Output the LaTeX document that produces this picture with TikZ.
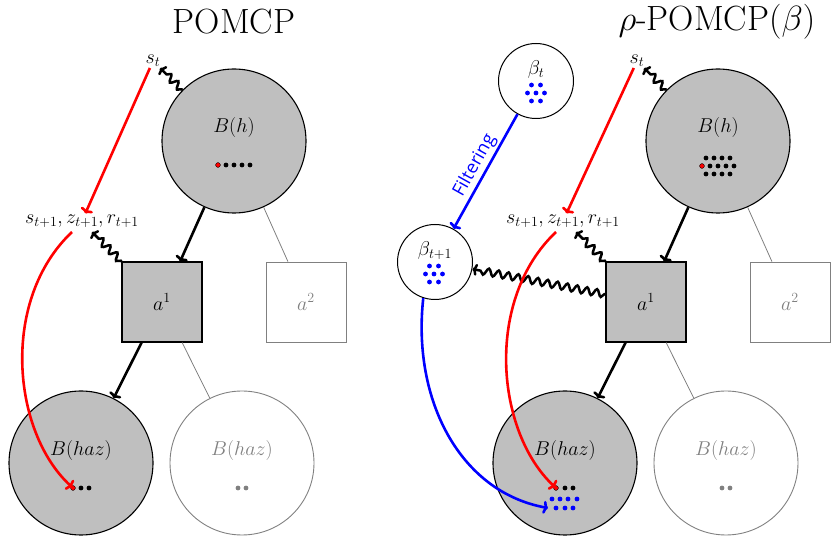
\documentclass[tikz,border=0pt]{standalone}
\usepackage{fontspec}
\newfontfamily\filtfont{Open Sans}
\DeclareFontShape{OML}{cmm}{m}{it}{<-6>cmmi5<6-7>cmmi6<7-8>cmmi7<8-9>cmmi8<9-10>cmmi9<10-12>cmmi10<12->cmmi12}{}
\DeclareFontShape{OMS}{cmsy}{m}{n}{<-6>cmsy5<6-7>cmsy6<7-8>cmsy7<8-9>cmsy8<9-10>cmsy9<10->cmsy10}{}
\DeclareFontShape{OT1}{cmr}{m}{n}{<-6>cmr5<6-7>cmr6<7-8>cmr7<8-9>cmr8<9-10>cmr9<10-12>cmr10<12-17>cmr12<17->cmr17}{}
\usetikzlibrary{decorations.pathmorphing,arrows.meta}
\begin{document}
\begin{tikzpicture}[x=1pt,y=1pt,
  lbl/.style={font=\fontsize{20}{23}\selectfont, inner sep=1pt},
  ttl/.style={font=\fontsize{35}{40}\selectfont},
  bel/.style={circle, draw=black, fill=lightgray, line width=1.1pt, minimum size=144pt, inner sep=0pt},
  belg/.style={circle, draw=gray, line width=0.9pt, minimum size=144pt, inner sep=0pt},
  act/.style={rectangle, draw=black, fill=lightgray, line width=1.1pt, minimum size=80pt, inner sep=0pt},
  actg/.style={rectangle, draw=gray, line width=0.9pt, minimum size=80pt, inner sep=0pt},
  bcirc/.style={circle, draw=black, fill=white, line width=1pt, minimum size=75pt, inner sep=0pt},
  tarr/.style={line width=2.6pt, -{To[length=5pt,width=13pt]}},
  garr/.style={draw=gray, line width=0.8pt},
  wavy/.style={line width=2.5pt, -{To[length=5pt,width=12pt]}, decorate,
     decoration={snake, amplitude=3.5pt, segment length=10pt, pre length=1pt, post length=5pt}},
  rarr/.style={red, line width=2.6pt, -{To[length=5pt,width=13pt]}},
  uarr/.style={blue, line width=2.6pt, -{To[length=5pt,width=13pt]}}
]
\useasboundingbox (0,0) rectangle (831,-537);
\def\dr{2.4}

% ---------- titles
\node[ttl] (t1) at (234,-22) {POMCP};
\node[ttl] (t2) at (717,-22) {$\rho$-POMCP$(\beta)$};

% ================= LEFT PANEL
\node[bel] (Bh) at (234,-141) {};
\node[lbl] (BhT) at (234,-128) {$B(h)$};
\filldraw[fill=red, draw=black, line width=0.4pt] (218,-165) circle (\dr);
\foreach \x in {226,234,242,250} \fill (\x,-165) circle (\dr);

\node[act] (a1) at (162,-302) {};
\node[lbl] (a1T) at (162,-302) {$a^1$};
\node[actg] (a2) at (306,-302) {};
\node[lbl, text=gray] (a2T) at (306,-302) {$a^2$};

\node[bel] (Bz) at (81,-463) {};
\node[lbl] (BzT) at (81,-451) {$B(haz)$};
\coordinate (rdL) at (73,-488);
\filldraw[fill=red, draw=black, line width=0.4pt] (rdL) circle (\dr);
\foreach \x in {81,89} \fill (\x,-488) circle (\dr);

\node[belg] (Bg) at (242,-463) {};
\node[lbl, text=gray] (BgT) at (242,-451) {$B(haz)$};
\foreach \x in {238,246} \fill[gray] (\x,-488) circle (\dr);

\node[lbl] (st) at (153,-61) {$s_t$};
\node[lbl] (sl) at (82,-221) {$s_{t+1}, z_{t+1}, r_{t+1}$};
\coordinate (slw) at (92,-232);
\coordinate (slr) at (72,-232);

\draw[tarr] (Bh) -- (a1);
\draw[garr] (Bh) -- (a2);
\draw[tarr] (a1) -- (Bz);
\draw[garr] (a1) -- (Bg);
\draw[wavy] (Bh) -- (st);
\draw[wavy] (a1.north west) -- (slw);
\draw[rarr] (st) -- (sl);
\draw[rarr, shorten >=1pt] (slr) .. controls (0,-300) and (12,-432) .. (rdL);

% ================= RIGHT PANEL
\node[bel] (RBh) at (718,-141) {};
\node[lbl] (RBhT) at (718,-128) {$B(h)$};
\foreach \x in {706,714,722,730} \fill (\x,-158) circle (\dr);
\filldraw[fill=red, draw=black, line width=0.4pt] (702,-166) circle (\dr);
\foreach \x in {710,718,726,734} \fill (\x,-166) circle (\dr);
\foreach \x in {706,714,722,730} \fill (\x,-174) circle (\dr);

\node[act] (Ra1) at (646,-302) {};
\node[lbl] (Ra1T) at (646,-302) {$a^1$};
\node[actg] (Ra2) at (790,-302) {};
\node[lbl, text=gray] (Ra2T) at (790,-302) {$a^2$};

\node[bel] (RBz) at (565,-463) {};
\node[lbl] (RBzT) at (565,-451) {$B(haz)$};
\coordinate (rdR) at (556,-488);
\filldraw[fill=red, draw=black, line width=0.4pt] (rdR) circle (\dr);
\foreach \x in {565,573} \fill (\x,-488) circle (\dr);
\foreach \x in {552,560,568,577} \fill[blue] (\x,-499) circle (\dr);
\coordinate (bdR) at (548,-508);
\foreach \x in {556,565,573} \fill[blue] (\x,-508) circle (\dr);

\node[belg] (RBg) at (726,-463) {};
\node[lbl, text=gray] (RBgT) at (726,-451) {$B(haz)$};
\foreach \x in {722,730} \fill[gray] (\x,-488) circle (\dr);

\node[lbl] (Rst) at (637,-61) {$s_t$};
\node[lbl] (Rsl) at (563,-221) {$s_{t+1}, z_{t+1}, r_{t+1}$};
\coordinate (Rslw) at (576,-232);
\coordinate (Rslr) at (556,-232);

% beta circles
\node[bcirc] (bt) at (536,-81) {};
\node[lbl] (btT) at (536,-70) {$\beta_t$};
\foreach \dx/\dy in {-4.5/4, 4.5/4, -8.5/12, 0/12, 8.5/12, -4.5/20, 4.5/20}
  \fill[blue] (536+\dx,-81-\dy) circle (\dr);
\node[bcirc] (bt1) at (435,-262) {};
\node[lbl] (bt1T) at (435,-251) {$\beta_{t+1}$};
\foreach \dx/\dy in {-4.5/4, 4.5/4, -8.5/12, 0/12, 8.5/12, -4.5/20, 4.5/20}
  \fill[blue] (434+\dx,-262-\dy) circle (\dr);

\draw[tarr] (RBh) -- (Ra1);
\draw[garr] (RBh) -- (Ra2);
\draw[tarr] (Ra1) -- (RBz);
\draw[garr] (Ra1) -- (RBg);
\draw[wavy] (RBh) -- (Rst);
\draw[wavy] (Ra1.north west) -- (Rslw);
\draw[wavy] (Ra1) -- (bt1);
\draw[uarr] (bt) -- node[midway, sloped, above, font=\filtfont\fontsize{18}{21}\selectfont, inner sep=2pt] (filt) {Filtering} (bt1);
\draw[uarr] (bt1.-108) .. controls (412,-400) and (460,-492) .. (bdR);
\draw[rarr] (Rst) -- (Rsl);
\draw[rarr, shorten >=1pt] (Rslr) .. controls (484,-300) and (496,-432) .. (rdR);
\end{tikzpicture}
\end{document}
